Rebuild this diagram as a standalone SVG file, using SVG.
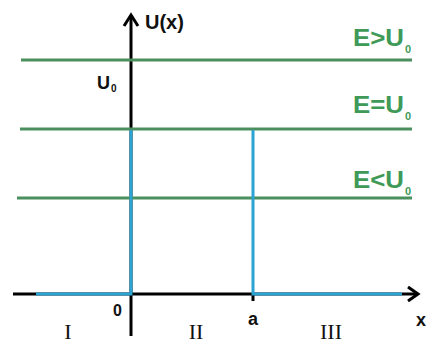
<svg xmlns="http://www.w3.org/2000/svg" width="429" height="347" viewBox="0 0 429 347">
<style>
.ax{stroke:#000;stroke-width:3;fill:none}
.gr{stroke:#4a8f5e;stroke-width:3;fill:none}
.bl{stroke:#2ba3d3;stroke-width:3;fill:none}
.gt{font-family:"Liberation Sans",Arial,sans-serif;font-weight:bold;font-size:23px;fill:#3f9a58}
.gs{font-family:"Liberation Sans",Arial,sans-serif;font-weight:bold;font-size:11px;fill:#3f9a58}
.kt{font-family:"Liberation Sans",Arial,sans-serif;font-weight:bold;fill:#111}
.rt{font-family:"Liberation Serif","Times New Roman",serif;font-size:22px;fill:#111}
</style>
<rect width="429" height="347" fill="#fff"/>
<g id="connectors">
<line class="ax" x1="131" y1="16" x2="131" y2="336"/>
<polyline class="ax" points="124,26 131,15 138,26"/>
<line class="ax" x1="13" y1="294" x2="418" y2="294"/>
<polyline class="ax" points="408,287 418,294 408,301"/>
<line class="ax" x1="253" y1="294" x2="253" y2="301"/>
<line class="gr" x1="21" y1="60" x2="412" y2="60"/>
<line class="gr" x1="20" y1="129" x2="412" y2="129"/>
<line class="gr" x1="17" y1="198" x2="412" y2="198"/>
<polyline class="bl" points="36,294 131,294 131,130"/>
<polyline class="bl" points="253,130 253,294 402,294"/>
</g>
<g id="labels">
<text class="kt" x="145" y="29" font-size="20">U(x)</text>
<text class="kt" x="97" y="89" font-size="18">U</text><text class="kt" x="111" y="92" font-size="10">0</text>
<text class="gt" x="353" y="46" textLength="51" lengthAdjust="spacingAndGlyphs">E&gt;U</text><text class="gs" x="405" y="53">0</text>
<text class="gt" x="353" y="113" textLength="51" lengthAdjust="spacingAndGlyphs">E=U</text><text class="gs" x="405" y="120">0</text>
<text class="gt" x="353" y="188" textLength="51" lengthAdjust="spacingAndGlyphs">E&lt;U</text><text class="gs" x="405" y="195">0</text>
<text class="kt" x="113" y="316" font-size="16">0</text>
<text class="kt" x="253" y="325" font-size="18" text-anchor="middle" font-weight="normal">a</text>
<text class="kt" x="416" y="326" font-size="18" font-weight="normal">x</text>
<text class="rt" x="68" y="339" text-anchor="middle">I</text>
<text class="rt" x="196" y="339" text-anchor="middle">II</text>
<text class="rt" x="331" y="339" text-anchor="middle">III</text>
</g>
</svg>
